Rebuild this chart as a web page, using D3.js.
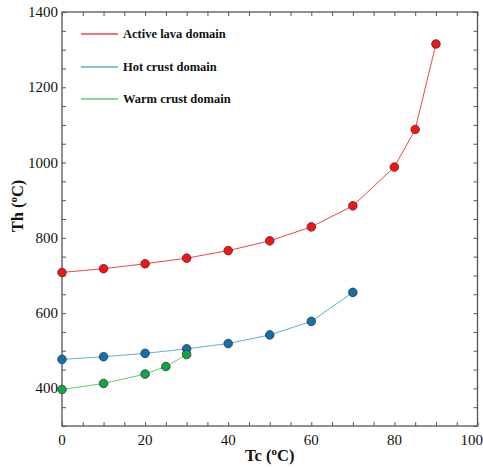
<!DOCTYPE html>
<html>
<head>
<meta charset="utf-8">
<script src="https://cdn.jsdelivr.net/npm/d3@7"></script>
<style>
  html, body { margin: 0; padding: 0; background: #fff; }
  svg { display: block; }
  text { font-family: "Liberation Serif", "DejaVu Serif", serif; fill: #111; }
</style>
</head>
<body>
<svg id="chart" width="483" height="469"></svg>
<script>
// Tc (°C) sample points and the matching Th (°C) for each domain
const activeTc = [0, 10, 20, 30, 40, 50, 60, 70, 80, 85, 90];
const activeTh = [708, 718, 731, 746, 766, 792, 829, 885, 988, 1088, 1315];
const hotTc = [0, 10, 20, 30, 40, 50, 60, 70];
const hotTh = [477, 484, 493, 505, 519, 542, 578, 655];
const warmTc = [0, 10, 20, 25, 30];
const warmTh = [397, 413, 438, 458, 490];

const xMajor = [0, 20, 40, 60, 80, 100];
const yMajor = [400, 600, 800, 1000, 1200, 1400];

const seriesNames = ["Active lava domain", "Hot crust domain", "Warm crust domain"];

const series = [
  { name: seriesNames[0], tc: activeTc, th: activeTh, line: "#e8484a", fill: "#ff1010" },
  { name: seriesNames[1], tc: hotTc, th: hotTh, line: "#5ab0d6", fill: "#0f70b4" },
  { name: seriesNames[2], tc: warmTc, th: warmTh, line: "#5ccf72", fill: "#12a544" }
];

const svg = d3.select("#chart");
const plotL = 62, plotR = 477.5, plotT = 12, plotB = 426;

const x = d3.scaleLinear().domain([0, 100]).range([plotL, plotR]);
const y = d3.scaleLinear().domain([300, 1400]).range([plotB, plotT]);

const axisColor = "#555";
const xMinor = d3.range(0, 101, 5);
const yMinor = d3.range(300, 1401, 50);

// Ticks point inward on all four sides
function styleAxis(g) {
  g.select(".domain").remove();
  g.selectAll(".tick line").attr("stroke", axisColor).attr("stroke-width", 1);
}

svg.append("g").attr("transform", `translate(0,${plotB})`)
  .call(d3.axisBottom(x).tickValues(xMinor).tickSize(-4).tickFormat(""))
  .call(styleAxis);
svg.append("g").attr("transform", `translate(0,${plotT})`)
  .call(d3.axisTop(x).tickValues(xMinor).tickSize(-4).tickFormat(""))
  .call(styleAxis);
svg.append("g").attr("transform", `translate(${plotL},0)`)
  .call(d3.axisLeft(y).tickValues(yMinor).tickSize(-4).tickFormat(""))
  .call(styleAxis);
svg.append("g").attr("transform", `translate(${plotR},0)`)
  .call(d3.axisRight(y).tickValues(yMinor).tickSize(-4).tickFormat(""))
  .call(styleAxis);

// Frame
svg.append("rect")
  .attr("x", plotL).attr("y", plotT)
  .attr("width", plotR - plotL).attr("height", plotB - plotT)
  .attr("fill", "none").attr("stroke", axisColor).attr("stroke-width", 1.3);

// Tick labels (the last x label is kept inside the right edge)
svg.append("g").selectAll("text").data(xMajor).join("text")
  .attr("x", d => d === 100 ? 483 : x(d)).attr("y", plotB + 19)
  .attr("text-anchor", d => d === 100 ? "end" : "middle").attr("font-size", 15)
  .text(d => d);
svg.append("g").selectAll("text").data(yMajor).join("text")
  .attr("x", plotL - 4).attr("y", d => y(d) + 5)
  .attr("text-anchor", "end").attr("font-size", 15)
  .text(d => d);

// Axis titles
const xt = svg.append("text")
  .attr("x", x(50)).attr("y", 461)
  .attr("text-anchor", "middle").attr("font-size", 16.5).attr("font-weight", "bold");
xt.append("tspan").text("Tc (");
xt.append("tspan").attr("font-size", 11).attr("dy", -6).text("o");
xt.append("tspan").attr("dy", 6).text("C)");

const yt = svg.append("text")
  .attr("transform", `translate(23,206) rotate(-90)`)
  .attr("text-anchor", "middle").attr("font-size", 16.5).attr("font-weight", "bold");
yt.append("tspan").text("Th (");
yt.append("tspan").attr("font-size", 11).attr("dy", -6).text("o");
yt.append("tspan").attr("dy", 6).text("C)");

// Lines and markers
const line = d3.line().x(d => x(d[0])).y(d => y(d[1]));
series.forEach(s => {
  const pts = s.tc.map((t, i) => [t, s.th[i]]);
  svg.append("path").datum(pts)
    .attr("d", line).attr("fill", "none")
    .attr("stroke", s.line).attr("stroke-width", 1);
  svg.append("g").selectAll("circle").data(pts).join("circle")
    .attr("cx", d => x(d[0])).attr("cy", d => y(d[1])).attr("r", 4.3)
    .attr("fill", s.fill).attr("stroke", "#333").attr("stroke-width", 0.8);
});

// Legend
const legendY = [34, 67, 99];
const legend = svg.append("g");
series.forEach((s, i) => {
  legend.append("line")
    .attr("x1", 81).attr("x2", 118)
    .attr("y1", legendY[i]).attr("y2", legendY[i])
    .attr("stroke", s.line).attr("stroke-width", 1.3);
  legend.append("text")
    .attr("x", 123).attr("y", legendY[i] + 4)
    .attr("font-size", 12.5).attr("font-weight", "bold")
    .text(s.name);
});
</script>
</body>
</html>
